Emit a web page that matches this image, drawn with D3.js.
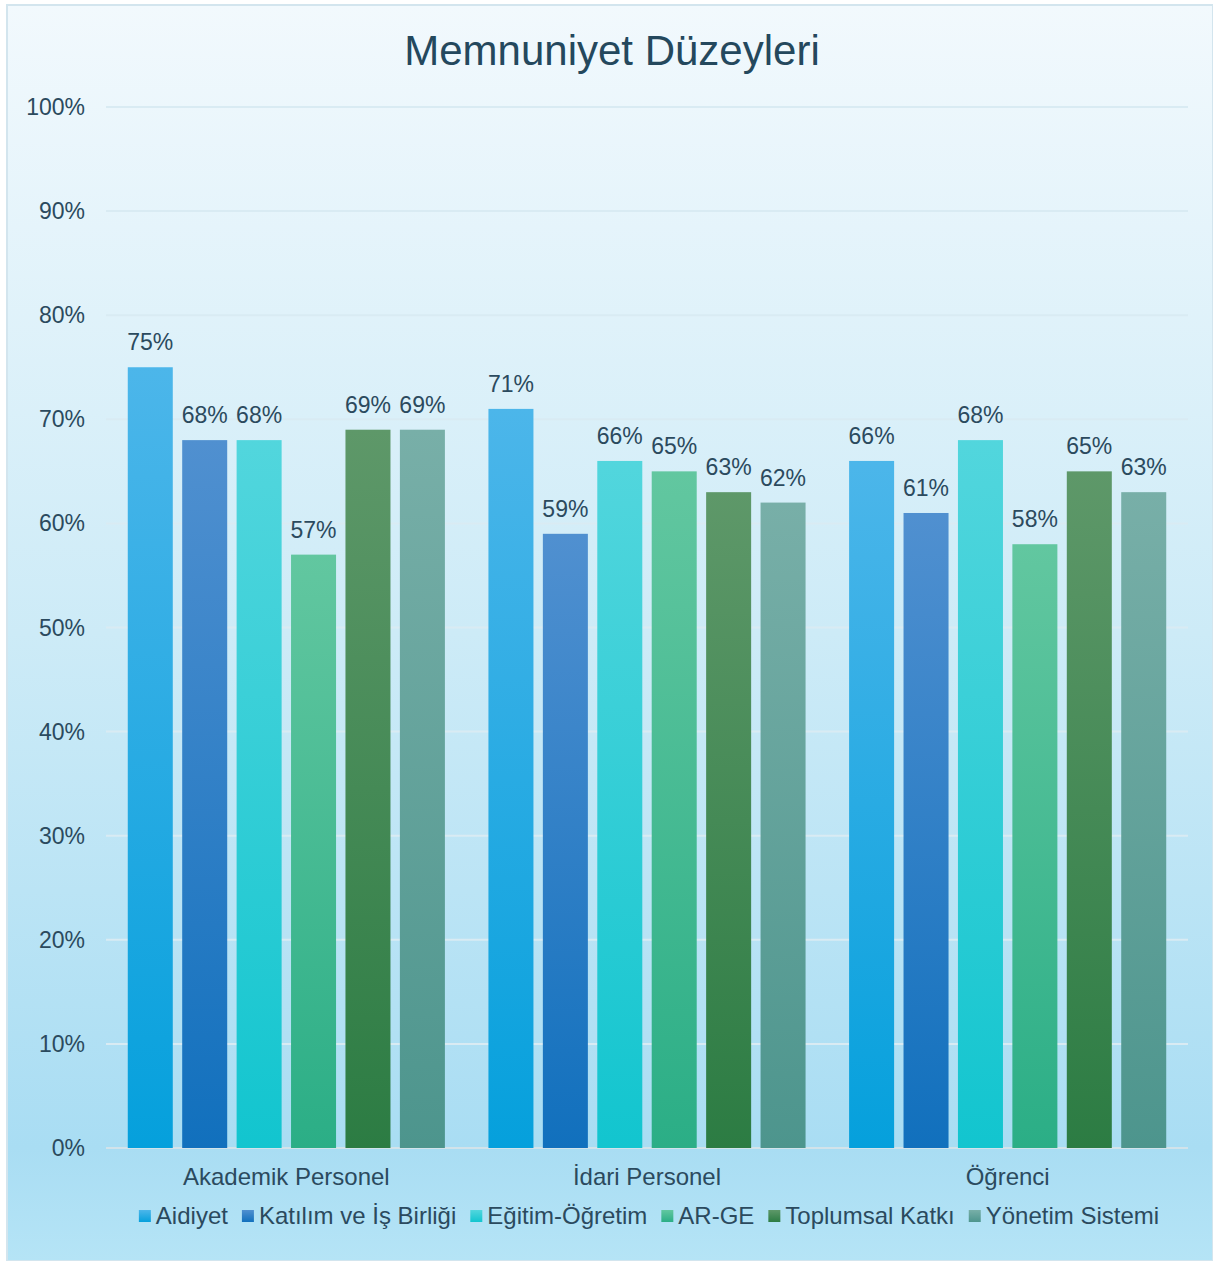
<!DOCTYPE html>
<html>
<head>
<meta charset="utf-8">
<script src="https://cdn.jsdelivr.net/npm/d3@7"></script>
<style>
  body { margin: 0; background: #fff; }
  svg { display: block; font-family: "Liberation Sans", Arial, sans-serif; }
</style>
</head>
<body>
<div id="chart"></div>
<script>
const W = 1213, H = 1261;

const categories = ["Akademik Personel", "İdari Personel", "Öğrenci"];
const series = ["Aidiyet", "Katılım ve İş Birliği", "Eğitim-Öğretim", "AR-GE", "Toplumsal Katkı", "Yönetim Sistemi"];
const values = [
  [75, 68, 68, 57, 69, 69],
  [71, 59, 66, 65, 63, 62],
  [66, 61, 68, 58, 65, 63]
];
const yTicks = [0, 10, 20, 30, 40, 50, 60, 70, 80, 90, 100];
// top / bottom colour of each series gradient
const colorsTop = ["#4cb6ea", "#5090d0", "#52d6dd", "#62c7a0", "#5e9869", "#78afa8"];
const colorsBot = ["#05a0dc", "#1170bd", "#12c5cf", "#2bae86", "#2c7c43", "#4d958d"];

const margin = {top: 107, right: 25, bottom: 113, left: 106};
const fs = "23px";
const fsBig = "24px";

const svg = d3.select("#chart").append("svg")
  .attr("width", W).attr("height", H);

const defs = svg.append("defs");
const bg = defs.append("linearGradient").attr("id", "bg")
  .attr("x1", 0).attr("y1", 0).attr("x2", 0).attr("y2", 1);
bg.append("stop").attr("offset", "0%").attr("stop-color", "#f2f9fd");
bg.append("stop").attr("offset", "50%").attr("stop-color", "#cdebf7");
bg.append("stop").attr("offset", "91%").attr("stop-color", "#a9ddf3");
bg.append("stop").attr("offset", "100%").attr("stop-color", "#b5e4f6");

series.forEach((s, i) => {
  const g = defs.append("linearGradient").attr("id", "g" + i)
    .attr("x1", 0).attr("y1", 0).attr("x2", 0).attr("y2", 1);
  g.append("stop").attr("offset", "0%").attr("stop-color", colorsTop[i]);
  g.append("stop").attr("offset", "100%").attr("stop-color", colorsBot[i]);
});

svg.append("rect")
  .attr("x", 7).attr("y", 5).attr("width", W - 7).attr("height", H - 5)
  .attr("fill", "url(#bg)")
  .attr("stroke", "#d3e5ee").attr("stroke-width", 2);

svg.append("text")
  .attr("x", 612).attr("y", 65)
  .attr("text-anchor", "middle")
  .style("font-size", "42px")
  .style("fill", "#24485d")
  .text("Memnuniyet Düzeyleri");

const x0 = d3.scaleBand().domain(categories)
  .range([margin.left, W - margin.right]);
const x1 = d3.scaleBand().domain(series)
  .range([0, x0.bandwidth()]).paddingInner(0.173).paddingOuter(0.4);
const y = d3.scaleLinear().domain([0, 100]).range([H - margin.bottom, margin.top]);

// gridlines
svg.append("g").selectAll("line").data(yTicks).enter().append("line")
  .attr("x1", margin.left).attr("x2", W - margin.right)
  .attr("y1", d => y(d)).attr("y2", d => y(d))
  .attr("stroke", d => d === 0 ? "#d2e3ea" : "#d9ebf3")
  .attr("stroke-width", 2);

// y axis labels
svg.append("g").selectAll("text").data(yTicks).enter().append("text")
  .attr("x", 85).attr("y", d => y(d) + 8)
  .attr("text-anchor", "end")
  .style("font-size", fs)
  .style("fill", "#2b4a5e")
  .text(d => d + "%");

const groups = svg.append("g").selectAll("g").data(categories).enter().append("g")
  .attr("transform", d => `translate(${x0(d)},0)`);

groups.selectAll("rect").data((d, ci) => values[ci].map((v, si) => ({v, si})))
  .enter().append("rect")
  .attr("x", d => x1(series[d.si]))
  .attr("width", x1.bandwidth())
  .attr("y", d => y(d.v))
  .attr("height", d => y(0) - y(d.v))
  .attr("fill", d => `url(#g${d.si})`);

groups.selectAll("text").data((d, ci) => values[ci].map((v, si) => ({v, si})))
  .enter().append("text")
  .attr("x", d => x1(series[d.si]) + x1.bandwidth() / 2)
  .attr("y", d => y(d.v) - 17)
  .attr("text-anchor", "middle")
  .style("font-size", fs)
  .style("fill", "#2b4a5e")
  .text(d => d.v + "%");

// category labels
svg.append("g").selectAll("text").data(categories).enter().append("text")
  .attr("x", d => x0(d) + x0.bandwidth() / 2)
  .attr("y", y(0) + 37)
  .attr("text-anchor", "middle")
  .style("font-size", fsBig)
  .style("fill", "#2b4a5e")
  .text(d => d);

// legend
const legend = svg.append("g");
let lx = 0;
series.forEach((s, i) => {
  const it = legend.append("g");
  it.append("rect").attr("x", 0).attr("y", -14).attr("width", 12).attr("height", 12)
    .attr("fill", `url(#g${i})`);
  const t = it.append("text").attr("x", 17).attr("y", 0)
    .style("font-size", fsBig).style("fill", "#2b4a5e").text(s);
  const tw = t.node().getComputedTextLength();
  it.attr("transform", `translate(${lx},1224)`);
  lx += 17 + tw + 14;
});
const totalW = lx - 14;
legend.attr("transform", `translate(${649 - totalW / 2},0)`);
</script>
</body>
</html>
